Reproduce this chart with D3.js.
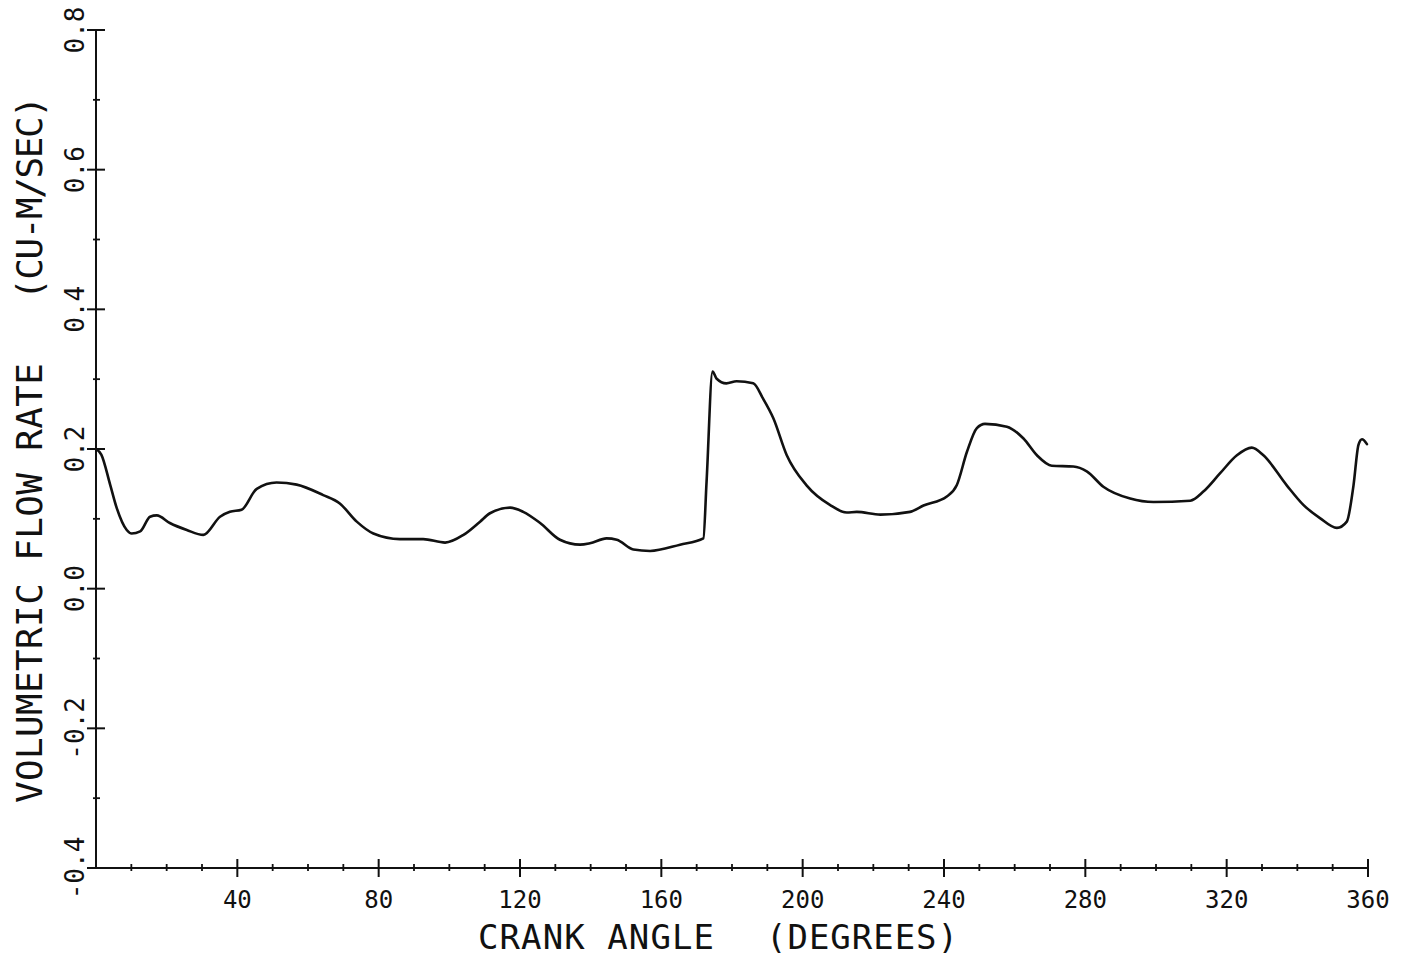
<!DOCTYPE html>
<html>
<head>
<meta charset="utf-8">
<script src="https://cdn.jsdelivr.net/npm/d3@7"></script>
<style>
  html, body { margin: 0; padding: 0; background: #fff; }
  svg { display: block; }
  text { font-family: "DejaVu Sans Mono", monospace; fill: #111; }
</style>
</head>
<body>
<svg id="chart" width="1407" height="966"></svg>
<script>
// Crank angle (degrees)
const angle = [0, 1.5, 4, 5.9, 8.7, 10.1, 12.5, 15.3, 17.2, 20.9, 25.7, 30.4, 35.1, 37.9, 41.2, 45.5,
  51.1, 56.8, 64.3, 69, 73.8, 78.5, 86, 92.6, 98.8, 104, 108.7, 111.5, 117.2, 120.9, 125.7, 131.3,
  137, 139.8, 144.5, 147.4, 152.1, 156.8, 165.3, 171.9, 172.8, 174.5, 175.6, 178.4, 181.3, 186,
  188.8, 191.7, 195.5, 201.1, 207.7, 212.5, 215.3, 222, 230.4, 234.2, 240.8, 243.6, 246.5, 249.3,
  251.6, 257.8, 262.5, 266.3, 270.5, 276.6, 280.4, 285.1, 292.7, 299.3, 309.7, 313.4, 318.1, 322.9,
  327.1, 330.4, 337, 341.7, 346.4, 351.2, 354, 355.9, 357.3, 358.3, 359.7];
// Volumetric flow rate (cu-m/sec)
const flow = [0.200, 0.192, 0.149, 0.115, 0.084, 0.079, 0.082, 0.103, 0.105, 0.094, 0.084, 0.077, 0.103, 0.110, 0.113, 0.143,
  0.152, 0.149, 0.134, 0.122, 0.096, 0.079, 0.071, 0.071, 0.066, 0.077, 0.096, 0.108, 0.116, 0.110, 0.094, 0.070,
  0.063, 0.065, 0.072, 0.070, 0.056, 0.054, 0.063, 0.072, 0.153, 0.311, 0.301, 0.294, 0.297, 0.294,
  0.272, 0.244, 0.191, 0.148, 0.120, 0.109, 0.110, 0.106, 0.110, 0.119, 0.132, 0.148, 0.196, 0.230,
  0.236, 0.232, 0.215, 0.191, 0.176, 0.175, 0.168, 0.146, 0.129, 0.124, 0.126, 0.139, 0.165, 0.191,
  0.202, 0.191, 0.148, 0.120, 0.101, 0.087, 0.096, 0.148, 0.206, 0.214, 0.207];

const xTickValues = [40, 80, 120, 160, 200, 240, 280, 320, 360];
const xTickLabels = ["40", "80", "120", "160", "200", "240", "280", "320", "360"];
const yTickValues = [-0.4, -0.2, 0.0, 0.2, 0.4, 0.6, 0.8];
const yTickLabels = ["-0.4", "-0.2", "0.0", "0.2", "0.4", "0.6", "0.8"];
const xTitleParts = ["CRANK ANGLE", "(DEGREES)"];
const yTitleParts = ["VOLUMETRIC FLOW RATE", "(CU-M/SEC)"];

const svg = d3.select("#chart");
const x = d3.scaleLinear().domain([0, 360]).range([96, 1368]);
const y = d3.scaleLinear().domain([-0.4, 0.8]).range([868, 30]);

const g = svg.append("g");

// Axis lines
g.append("line").attr("x1", x(0)).attr("x2", x(360)).attr("y1", y(-0.4)).attr("y2", y(-0.4))
  .attr("stroke", "#111").attr("stroke-width", 2);
g.append("line").attr("x1", x(0)).attr("x2", x(0)).attr("y1", y(-0.4)).attr("y2", y(0.8))
  .attr("stroke", "#111").attr("stroke-width", 2);

// X ticks: minor every 10, major every 40
const xMinor = d3.range(10, 361, 10).filter(v => v % 40 !== 0);
g.selectAll(".xminor").data(xMinor).enter().append("line")
  .attr("x1", d => x(d)).attr("x2", d => x(d))
  .attr("y1", y(-0.4) - 4).attr("y2", y(-0.4) + 3)
  .attr("stroke", "#111").attr("stroke-width", 1.8);
g.selectAll(".xmajor").data(xTickValues).enter().append("line")
  .attr("x1", d => x(d)).attr("x2", d => x(d))
  .attr("y1", y(-0.4) - 9).attr("y2", y(-0.4) + 9)
  .attr("stroke", "#111").attr("stroke-width", 2);
g.selectAll(".xlab").data(xTickValues).enter().append("text")
  .attr("x", d => x(d)).attr("y", 908)
  .attr("text-anchor", "middle").attr("font-size", 24)
  .text((d, i) => xTickLabels[i]);

// Y ticks: minor every 0.1, major every 0.2
const yMinor = [-0.3, -0.1, 0.1, 0.3, 0.5, 0.7];
g.selectAll(".yminor").data(yMinor).enter().append("line")
  .attr("x1", x(0) - 3).attr("x2", x(0) + 4)
  .attr("y1", d => y(d)).attr("y2", d => y(d))
  .attr("stroke", "#111").attr("stroke-width", 1.8);
g.selectAll(".ymajor").data(yTickValues).enter().append("line")
  .attr("x1", x(0) - 9).attr("x2", x(0) + 9)
  .attr("y1", d => y(d)).attr("y2", d => y(d))
  .attr("stroke", "#111").attr("stroke-width", 2);
g.selectAll(".ylab").data(yTickValues).enter().append("text")
  .attr("transform", d => `translate(84,${y(d)}) rotate(-90)`)
  .attr("text-anchor", "middle").attr("font-size", 26)
  .text((d, i) => yTickLabels[i]);

// Axis titles
g.append("text").attr("x", 478).attr("y", 949).attr("font-size", 34)
  .attr("textLength", 236).attr("lengthAdjust", "spacing").text(xTitleParts[0]);
g.append("text").attr("x", 766).attr("y", 949).attr("font-size", 34)
  .attr("textLength", 192).attr("lengthAdjust", "spacing").text(xTitleParts[1]);

g.append("text").attr("transform", "translate(42,803) rotate(-90)").attr("font-size", 36)
  .attr("textLength", 440).attr("lengthAdjust", "spacing").text(yTitleParts[0]);
g.append("text").attr("transform", "translate(42,300) rotate(-90)").attr("font-size", 36)
  .attr("textLength", 204).attr("lengthAdjust", "spacing").text(yTitleParts[1]);

// Curve
const pts = angle.map((a, i) => [a, flow[i]]);
const line = d3.line().x(d => x(d[0])).y(d => y(d[1])).curve(d3.curveMonotoneX);
g.append("path").datum(pts).attr("d", line)
  .attr("fill", "none").attr("stroke", "#111").attr("stroke-width", 2.6)
  .attr("stroke-linejoin", "round").attr("stroke-linecap", "round");
</script>
</body>
</html>
